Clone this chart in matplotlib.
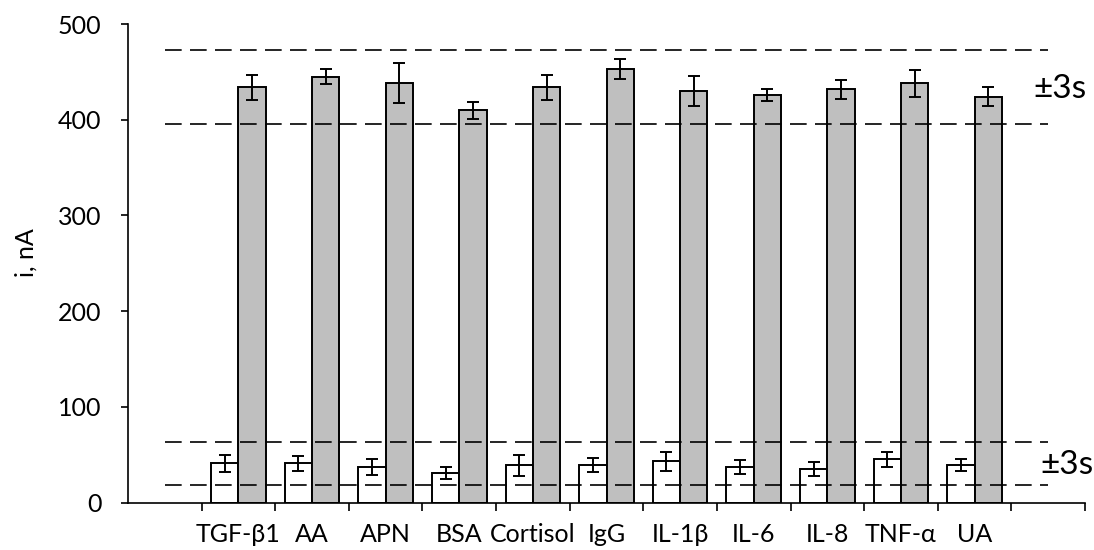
import numpy as np
import matplotlib.pyplot as plt

# first and last slots are left empty in the original
categories = ["", "TGF-β1", "AA", "APN", "BSA", "Cortisol", "IgG",
              "IL-1β", "IL-6", "IL-8", "TNF-α", "UA", ""]

blank_vals = [41, 41, 37, 31, 39, 39, 43, 37, 35, 45, 39]
blank_err = [9, 8, 8, 6, 11, 7, 10, 7, 7, 8, 6]
signal_vals = [434, 445, 438, 410, 434, 453, 430, 426, 432, 438, 424]
signal_err = [13, 8, 21, 9, 13, 10, 16, 6, 10, 14, 10]

# +-3s limit lines, one value per category slot
upper_hi = [473] * 13
upper_lo = [396] * 13
lower_hi = [63] * 13
lower_lo = [18] * 13

plt.rcParams['font.family'] = ['Lato', 'DejaVu Sans']

fig = plt.figure(figsize=(10.94, 5.5), dpi=100)
ax = fig.add_axes([128 / 1094, 1 - 502.5 / 550, (1085 - 128) / 1094, (502.5 - 24) / 550])

xs = np.arange(len(categories))
xb = xs[1:-1]
w = 0.37

ax.bar(xb - w / 2, blank_vals, w, color="white", edgecolor="black", linewidth=1.4, zorder=2)
ax.bar(xb + w / 2, signal_vals, w, color="#bfbfbf", edgecolor="black", linewidth=1.4, zorder=2)
ax.errorbar(xb - w / 2, blank_vals, yerr=blank_err, fmt="none", ecolor="black",
            elinewidth=1.4, capsize=4, capthick=1.4, zorder=3)
ax.errorbar(xb + w / 2, signal_vals, yerr=signal_err, fmt="none", ecolor="black",
            elinewidth=1.4, capsize=4, capthick=1.4, zorder=3)

for line in (upper_hi, upper_lo, lower_hi, lower_lo):
    ax.plot(xs, line, color="black", linewidth=1.2, linestyle=(0, (10, 5)), zorder=4)

ax.text(11.8, 432, "±3s", fontsize=24, ha="left", va="center", clip_on=False)
ax.text(11.89, 39, "±3s", fontsize=24, ha="left", va="center", clip_on=False)

ax.set_xlim(-0.5, len(categories) - 0.5)
ax.set_ylim(0, 500)
ax.set_yticks(range(0, 501, 100))
ax.set_xticks(np.arange(0.5, len(categories), 1))
ax.set_xticklabels([])
ax.set_xticks(xb, minor=True)
ax.set_xticklabels(categories[1:-1], minor=True)
ax.tick_params(axis="x", which="major", length=6, width=1.2, direction="out")
ax.tick_params(axis="x", which="minor", length=0, pad=15, labelsize=18)
ax.tick_params(axis="y", length=5, width=1.2, pad=14, labelsize=18)

for side in ("top", "right"):
    ax.spines[side].set_visible(False)
for side in ("left", "bottom"):
    ax.spines[side].set_linewidth(1.2)

fig.text(26 / 1094, 1 - 253 / 550, "i, nA", rotation=90, ha="center", va="center", fontsize=18)

fig.savefig("out.png", dpi=100)
